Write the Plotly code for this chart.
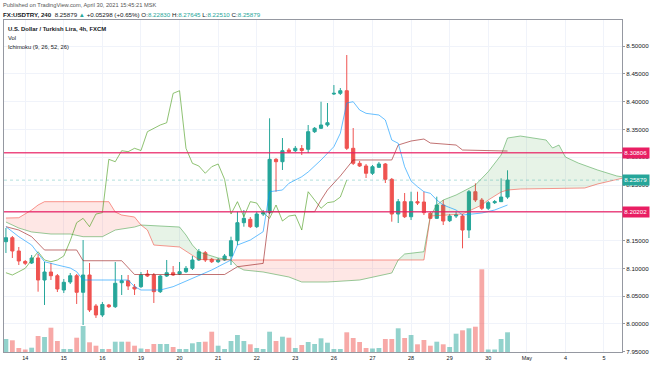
import plotly.graph_objects as go

# ---------------- data ----------------
day_ticks = [3, 9, 15, 21, 27, 33, 39, 45, 51, 57, 63, 69, 75, 81, 87, 93]
day_labels = ["14", "15", "16", "19", "20", "21", "22", "23", "26", "27", "28", "29", "30", "May", "4", "5"]

opens = [8.1480, 8.1552, 8.1313, 8.1124, 8.1097, 8.1187, 8.0791, 8.0935, 8.0868, 8.0611,
         8.0755, 8.0868, 8.0570, 8.0881, 8.0324, 8.0162, 8.0342, 8.0311, 8.0742, 8.0778,
         8.0665, 8.0671, 8.0899, 8.0881, 8.0581, 8.0863, 8.0922, 8.0899, 8.0940, 8.1001,
         8.1151, 8.1282, 8.1164, 8.1120, 8.1151, 8.1223, 8.1498, 8.1822, 8.1883, 8.1750,
         8.1978, 8.2002, 8.2962, 8.2919, 8.3129, 8.3117, 8.3156, 8.3142, 8.3459, 8.3520,
         8.3579, 8.4137, 8.4149, 8.4196, 8.3160, 8.2890, 8.2842, 8.2711, 8.2818, 8.2878,
         8.2602, 8.1978, 8.2200, 8.1929, 8.2200, 8.2194, 8.1991, 8.1900, 8.2140, 8.1858,
         8.1942, 8.1942, 8.1690, 8.2379, 8.2230, 8.2081, 8.2182, 8.2200, 8.22830]
highs = [8.1726, 8.1582, 8.1385, 8.1151, 8.1241, 8.1259, 8.1115, 8.1097, 8.0899, 8.0809,
         8.0917, 8.0899, 8.1510, 8.1097, 8.0360, 8.0396, 8.0360, 8.1115, 8.0881, 8.0881,
         8.0719, 8.0935, 8.0971, 8.0917, 8.0881, 8.1151, 8.1043, 8.1115, 8.1043, 8.1223,
         8.1349, 8.1313, 8.1187, 8.1187, 8.1259, 8.1570, 8.2020, 8.2050, 8.1924, 8.2014,
         8.2050, 8.3700, 8.2985, 8.3345, 8.3165, 8.3201, 8.3219, 8.3579, 8.3543, 8.3998,
         8.3975, 8.4298, 8.4244, 8.4838, 8.3525, 8.2932, 8.2878, 8.2860, 8.2914, 8.2895,
         8.2626, 8.2248, 8.2356, 8.2379, 8.2379, 8.2379, 8.2014, 8.2290, 8.2230, 8.1978,
         8.2020, 8.1978, 8.2410, 8.2530, 8.2266, 8.2212, 8.2230, 8.2620, 8.27645]
lows = [8.1277, 8.1187, 8.1061, 8.1061, 8.1079, 8.0581, 8.0342, 8.0791, 8.0575, 8.0557,
        8.0719, 8.0360, 7.9982, 8.0216, 8.0108, 8.0126, 8.0288, 8.0288, 8.0521, 8.0611,
        8.0521, 8.0647, 8.0845, 8.0378, 8.0557, 8.0845, 8.0863, 8.0881, 8.0917, 8.0971,
        8.1133, 8.1115, 8.1097, 8.1097, 8.1133, 8.1061, 8.1420, 8.1750, 8.1726, 8.1726,
        8.1942, 8.1978, 8.2379, 8.2770, 8.3075, 8.3093, 8.3039, 8.3075, 8.3436, 8.3507,
        8.3548, 8.4119, 8.4119, 8.3129, 8.2860, 8.2824, 8.2626, 8.2680, 8.2806, 8.2536,
        8.1840, 8.1816, 8.1906, 8.1870, 8.2140, 8.1960, 8.1888, 8.1888, 8.1780, 8.1834,
        8.1906, 8.1361, 8.1546, 8.2194, 8.2050, 8.2050, 8.2158, 8.2194, 8.22510]
closes = [8.1552, 8.1313, 8.1133, 8.1092, 8.1187, 8.0791, 8.0935, 8.0868, 8.0629, 8.0750,
          8.0868, 8.0570, 8.0881, 8.0252, 8.0162, 8.0351, 8.0311, 8.0732, 8.0778, 8.0683,
          8.0629, 8.0881, 8.0863, 8.0581, 8.0863, 8.0922, 8.0881, 8.0940, 8.1001, 8.1151,
          8.1300, 8.1151, 8.1120, 8.1151, 8.1223, 8.1498, 8.1822, 8.1900, 8.1750, 8.1978,
          8.2002, 8.2962, 8.2919, 8.3117, 8.3099, 8.3160, 8.3120, 8.3459, 8.3520, 8.3579,
          8.3620, 8.4149, 8.4196, 8.3160, 8.2890, 8.2842, 8.2711, 8.2829, 8.2878, 8.2602,
          8.1978, 8.2200, 8.1929, 8.2200, 8.2176, 8.2002, 8.1900, 8.2140, 8.1852, 8.1942,
          8.1960, 8.1690, 8.2379, 8.2230, 8.2081, 8.2182, 8.2200, 8.2283, 8.25879]
volumes = [130, 117, 40, 25, 43, 160, 150, 243, 110, 30,
           30, 143, 260, 97, 63, 30, 30, 103, 103, 103,
           63, 35, 30, 80, 80, 80, 50, 30, 30, 87,
           100, 103, 203, 63, 30, 110, 170, 110, 77, 40,
           30, 203, 110, 153, 143, 40, 70, 100, 80, 137,
           93, 30, 30, 197, 140, 100, 40, 35, 40, 130,
           130, 237, 140, 170, 77, 120, 63, 103, 77, 50,
           183, 217, 237, 253, 827, 25, 25, 130, 197]

tenkan_x = [0, 2, 4, 6, 8, 10, 11, 12, 19, 20, 21, 24, 26, 29, 30, 32, 35, 36, 38, 40,
            41, 43, 44, 46, 47, 49, 51, 52, 53, 54, 55, 56, 58, 59, 60, 61, 62, 63, 64, 65,
            66, 67, 68, 70, 71, 74, 76, 77, 78]
tenkan = [8.1750, 8.1570, 8.1420, 8.1120, 8.1061, 8.1007, 8.0940, 8.0791, 8.0791, 8.0671,
          8.0611, 8.0611, 8.0671, 8.0827, 8.0881, 8.0971, 8.1151, 8.1420, 8.1510, 8.1660,
          8.2379, 8.2410, 8.2530, 8.2649, 8.2734, 8.2950, 8.3189, 8.3430, 8.3975, 8.3998,
          8.3849, 8.3789, 8.3759, 8.3669, 8.3309, 8.3250, 8.2829, 8.2572, 8.2469, 8.2379,
          8.2350, 8.2230, 8.2140, 8.2050, 8.1960, 8.1996, 8.2050, 8.2099, 8.2140]

kijun_x = [0, 2, 4, 6, 11, 12, 18, 20, 34, 36, 40, 41, 48, 49, 50, 51, 52, 53, 54, 60,
           61, 63, 65, 66, 70, 71, 78]
kijun = [8.1750, 8.1690, 8.1570, 8.1331, 8.1331, 8.1138, 8.1138, 8.0890, 8.0890, 8.1030,
         8.1090, 8.2020, 8.2020, 8.2230, 8.2410, 8.2530, 8.2662, 8.2806, 8.2950, 8.2950,
         8.3219, 8.3291, 8.3327, 8.3255, 8.3219, 8.3129, 8.3111]

span_a_x = [0, 2, 4, 7, 10, 12, 15, 17, 20, 21, 27, 28, 29, 30, 33, 35, 36, 37, 40, 44,
            46, 50, 55, 60, 61, 62, 65, 66, 67, 68, 70, 71, 73, 75, 77, 78, 80, 81, 84, 85,
            86, 87, 89, 92, 95, 96]
span_a = [8.1834, 8.1726, 8.1655, 8.1618, 8.1618, 8.1570, 8.1570, 8.1690, 8.1744, 8.1780,
          8.1744, 8.1600, 8.1420, 8.1295, 8.1187, 8.1151, 8.1030, 8.0971, 8.0935, 8.0845,
          8.0755, 8.0755, 8.0791, 8.0917, 8.1151, 8.1259, 8.1300, 8.1942, 8.2140, 8.2230,
          8.2320, 8.2379, 8.2500, 8.2739, 8.3039, 8.3345, 8.3381, 8.3363, 8.3309, 8.3165,
          8.3219, 8.3003, 8.2895, 8.2770, 8.2662, 8.2644]

span_b_x = [0, 2, 4, 5, 6, 16, 17, 18, 20, 21, 22, 23, 27, 29, 30, 35, 61, 65, 66, 71,
            74, 75, 77, 78, 80, 90, 92, 95, 96]
span_b = [8.1906, 8.1911, 8.2050, 8.2140, 8.2200, 8.2200, 8.2014, 8.1960, 8.1924, 8.1780,
          8.1690, 8.1420, 8.1385, 8.1241, 8.1160, 8.1151, 8.1151, 8.1151, 8.1942, 8.1978,
          8.2140, 8.2230, 8.2374, 8.2410, 8.2428, 8.2446, 8.2518, 8.2608, 8.2626]

cloud_breaks = [0, 21, 35, 61, 96]
level_lines = [8.30806, 8.20202]
last_price = 8.25879
lagging_shift = 25

price_ticks = [7.95, 8.00, 8.05, 8.10, 8.15, 8.20, 8.25, 8.30, 8.35, 8.40, 8.45, 8.50]
price_tick_text = ["7.95000", "8.00000", "8.05000", "8.10000", "8.15000", "",
                   "8.25000", "8.30000", "8.35000", "8.40000", "8.45000", "8.50000"]

# ---------------- styles ----------------
UP = "#26a69a"
DOWN = "#ef5350"
FONT = "Liberation Sans, Arial, sans-serif"
TXT = "#131722"

idx = list(range(len(closes)))
fig = go.Figure()

# cloud fills
fill_cols = ["rgba(244,67,54,0.13)", "rgba(67,160,71,0.13)",
             "rgba(244,67,54,0.13)", "rgba(67,160,71,0.13)"]
for k in range(len(cloud_breaks) - 1):
    a, b = cloud_breaks[k], cloud_breaks[k + 1]
    pa = [(x, y) for x, y in zip(span_a_x, span_a) if a <= x <= b]
    pb = [(x, y) for x, y in zip(span_b_x, span_b) if a <= x <= b]
    xs = [p[0] for p in pa] + [p[0] for p in pb[::-1]]
    ys = [p[1] for p in pa] + [p[1] for p in pb[::-1]]
    fig.add_trace(go.Scatter(x=xs, y=ys, fill="toself", fillcolor=fill_cols[k],
                             mode="lines", line=dict(width=0), hoverinfo="skip",
                             showlegend=False))

# volume
vol_cols = ["rgba(38,166,154,0.5)" if c >= o else "rgba(239,83,80,0.5)"
            for o, c in zip(opens, closes)]
fig.add_trace(go.Bar(x=idx, y=volumes, marker=dict(color=vol_cols, line=dict(width=0)),
                     width=0.75, yaxis="y2", showlegend=False, hoverinfo="skip"))

# Ichimoku lines
fig.add_trace(go.Scatter(x=span_a_x, y=span_a, mode="lines",
                         line=dict(color="rgba(67,160,71,0.55)", width=1), showlegend=False))
fig.add_trace(go.Scatter(x=span_b_x, y=span_b, mode="lines",
                         line=dict(color="rgba(244,67,54,0.55)", width=1), showlegend=False))
lag_x = [i - lagging_shift for i in idx if i >= lagging_shift]
lag_y = [closes[i] for i in idx if i >= lagging_shift]
fig.add_trace(go.Scatter(x=lag_x, y=lag_y, mode="lines",
                         line=dict(color="rgba(69,153,21,0.6)", width=1), showlegend=False))
fig.add_trace(go.Scatter(x=kijun_x, y=kijun, mode="lines",
                         line=dict(color="rgba(153,21,21,0.6)", width=1), showlegend=False))
fig.add_trace(go.Scatter(x=tenkan_x, y=tenkan, mode="lines",
                         line=dict(color="rgba(4,150,255,0.6)", width=1), showlegend=False))

# horizontal levels
for lv in level_lines:
    fig.add_shape(type="line", xref="paper", x0=0, x1=1, yref="y", y0=lv, y1=lv,
                  line=dict(color="rgba(233,30,99,0.8)", width=1.5))
fig.add_shape(type="line", xref="paper", x0=0, x1=1, yref="y", y0=last_price, y1=last_price,
              line=dict(color="rgba(38,166,154,0.35)", width=1, dash="dot"))

# candles
fig.add_trace(go.Candlestick(x=idx, open=opens, high=highs, low=lows, close=closes,
                             increasing=dict(line=dict(color=UP, width=1), fillcolor=UP),
                             decreasing=dict(line=dict(color=DOWN, width=1), fillcolor=DOWN),
                             whiskerwidth=0, showlegend=False))

# right axis labels
def axis_tag(val, col):
    fig.add_annotation(xref="paper", x=1.0, xanchor="left", yref="y", y=val,
                       text=f"{val:.5f}", showarrow=False, bgcolor=col,
                       font=dict(family=FONT, size=6.2, color="white"), borderpad=1.3, xshift=0)

axis_tag(level_lines[0], "#e91e63")
axis_tag(level_lines[1], "#e91e63")
axis_tag(last_price, UP)

# header / legend texts
def ptext(xpx, ypx, txt, size=6.5):
    fig.add_annotation(xref="paper", yref="paper", x=(xpx - 4) / 618, y=(352 - ypx) / 332,
                       xanchor="left", yanchor="middle", text=txt, showarrow=False,
                       font=dict(family=FONT, size=size, color=TXT))

ptext(1, 5, "<span style='color:#555'>Published on TradingView.com, April 30, 2021 15:45:21 MSK</span>", 5.7)
ptext(1, 14, "<b>FX:USDTRY, 240</b>  8.25879 <span style='color:#26a69a'>▲</span> +0.05298 (+0.65%) "
             "O:<span style='color:#26a69a'>8.22830</span> H:<span style='color:#26a69a'>8.27645</span> "
             "L:<span style='color:#26a69a'>8.22510</span> C:<span style='color:#26a69a'>8.25879</span>", 6.2)
ptext(6, 29, "<b>U.S. Dollar / Turkish Lira, 4h, FXCM</b>", 5.9)
ptext(6, 38, "Vol", 5.8)
ptext(6, 47, "Ichimoku (9, 26, 52, 26)", 5.8)

fig.update_layout(
    width=654, height=366, autosize=False,
    margin=dict(l=4, r=32, t=20, b=14),
    paper_bgcolor="white", plot_bgcolor="white",
    showlegend=False, hovermode=False,
    xaxis=dict(range=[-0.3, 95.8], tickmode="array", tickvals=day_ticks, ticktext=day_labels,
               showgrid=True, gridcolor="#f0f3fa", gridwidth=1, zeroline=False,
               showline=True, linecolor="#9598a1", linewidth=1, mirror=True,
               ticks="", tickfont=dict(family=FONT, size=5.5, color=TXT),
               rangeslider=dict(visible=False), fixedrange=True),
    yaxis=dict(range=[7.9496, 8.5468], side="right", tickmode="array", tickvals=price_ticks,
               ticktext=price_tick_text, showgrid=True, gridcolor="#f0f3fa",
               zeroline=False, showline=True, linecolor="#9598a1", linewidth=1, mirror=True,
               ticks="outside", ticklen=2, tickcolor="#9598a1",
               tickfont=dict(family=FONT, size=6.2, color=TXT)),
    yaxis2=dict(overlaying="y", range=[0, 3320], visible=False, fixedrange=True),
    bargap=0.2,
)

fig.write_html("out.html", config={"displayModeBar": False},
               post_script="document.body.style.margin='0';")
